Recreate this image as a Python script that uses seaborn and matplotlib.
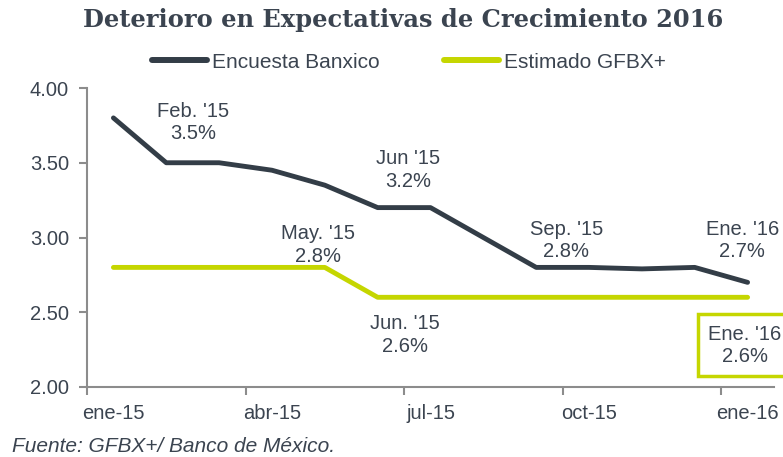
import matplotlib
matplotlib.use("Agg")
import matplotlib.pyplot as plt
import seaborn as sns
import pandas as pd
import numpy as np

months = ["ene-15", "feb-15", "mar-15", "abr-15", "may-15", "jun-15", "jul-15",
          "ago-15", "sep-15", "oct-15", "nov-15", "dic-15", "ene-16"]
banxico = [3.80, 3.50, 3.50, 3.45, 3.35, 3.20, 3.20, 3.00, 2.80, 2.80, 2.79, 2.80, 2.70]
gfbx = [2.80, 2.80, 2.80, 2.80, 2.80, 2.60, 2.60, 2.60, 2.60, 2.60, 2.60, 2.60, 2.60]
series_names = ["Encuesta Banxico", "Estimado GFBX+"]
tick_labels = ["ene-15", "abr-15", "jul-15", "oct-15", "ene-16"]
ytick_vals = [2.00, 2.50, 3.00, 3.50, 4.00]

DARK = "#333d47"
GREEN = "#c5d600"
GRAY = "#8c8c8c"
TXT = "#3b4450"

sns.set_theme(style="white")
plt.rcParams["font.family"] = ["Liberation Sans", "DejaVu Sans"]

idx = np.arange(len(months))
df = pd.DataFrame({
    "x": np.concatenate([idx, idx]),
    "valor": banxico + gfbx,
    "serie": [series_names[0]] * len(months) + [series_names[1]] * len(months),
})

fig = plt.figure(figsize=(7.83, 4.57), dpi=100)
ax = fig.add_axes([87 / 783, 1 - 387 / 457, (774 - 87) / 783, (387 - 88) / 457])

sns.lineplot(data=df, x="x", y="valor", hue="serie", palette=[DARK, GREEN],
             linewidth=3.5, ax=ax, legend=False, solid_capstyle="round",
             solid_joinstyle="round")

ax.set_xlim(-0.5, 12.5)
ax.set_ylim(2.0, 4.0)
ax.set_xlabel("")
ax.set_ylabel("")

ax.set_yticks(ytick_vals)
ax.set_yticklabels([f"{v:.2f}" for v in ytick_vals])
ax.set_xticks([months.index(t) for t in tick_labels])
ax.set_xticklabels(tick_labels)
ax.set_xticks(np.arange(-0.5, 12.5, 3), minor=True)

ax.tick_params(axis="x", which="major", length=0, pad=12, labelsize=14.5, labelcolor=TXT)
ax.tick_params(axis="x", which="minor", length=6, width=1.5, color=GRAY, direction="out", bottom=True)
ax.tick_params(axis="y", which="major", length=6, width=1.5, color=GRAY, direction="out",
               left=True, pad=7, labelsize=14.5, labelcolor=TXT)

for s in ["top", "right"]:
    ax.spines[s].set_visible(False)
for s in ["left", "bottom"]:
    ax.spines[s].set_color(GRAY)
    ax.spines[s].set_linewidth(1.5)

ann_kw = dict(ha="center", va="center", fontsize=14.5, color=TXT, linespacing=1.25)
ax.text(1.51, 3.77, "Feb. '15\n3.5%", **ann_kw)
ax.text(5.58, 3.45, "Jun '15\n3.2%", **ann_kw)
ax.text(3.87, 2.95, "May. '15\n2.8%", **ann_kw)
ax.text(5.52, 2.35, "Jun. '15\n2.6%", **ann_kw)
ax.text(8.57, 2.98, "Sep. '15\n2.8%", **ann_kw)
ax.text(11.9, 2.98, "Ene. '16\n2.7%", clip_on=False, **ann_kw)
ax.text(11.95, 2.278, "Ene. '16\n2.6%", clip_on=False,
        bbox=dict(boxstyle="square,pad=0.5", fc="white", ec=GREEN, lw=2.5), **ann_kw)

handles = [plt.Line2D([], [], color=DARK, lw=4.3, solid_capstyle="round"),
           plt.Line2D([], [], color=GREEN, lw=4.3, solid_capstyle="round")]
fig.legend(handles, series_names, loc="center", bbox_to_anchor=(409 / 783, 1 - 62 / 457),
           ncol=2, frameon=False, handlelength=2.65, handletextpad=0.24,
           columnspacing=3.1, prop={"size": 15}, labelcolor=TXT)

fig.text(403 / 783, 1 - 20 / 457, "Deterioro en Expectativas de Crecimiento 2016",
         ha="center", va="center", fontsize=17.4, fontweight="bold",
         family=["DejaVu Serif"], color=TXT)
fig.text(12 / 783, 1 - 447 / 457, "Fuente: GFBX+/ Banco de México.", ha="left", va="center",
         fontsize=15, style="italic", color=TXT)

fig.savefig("out.png", dpi=100)
